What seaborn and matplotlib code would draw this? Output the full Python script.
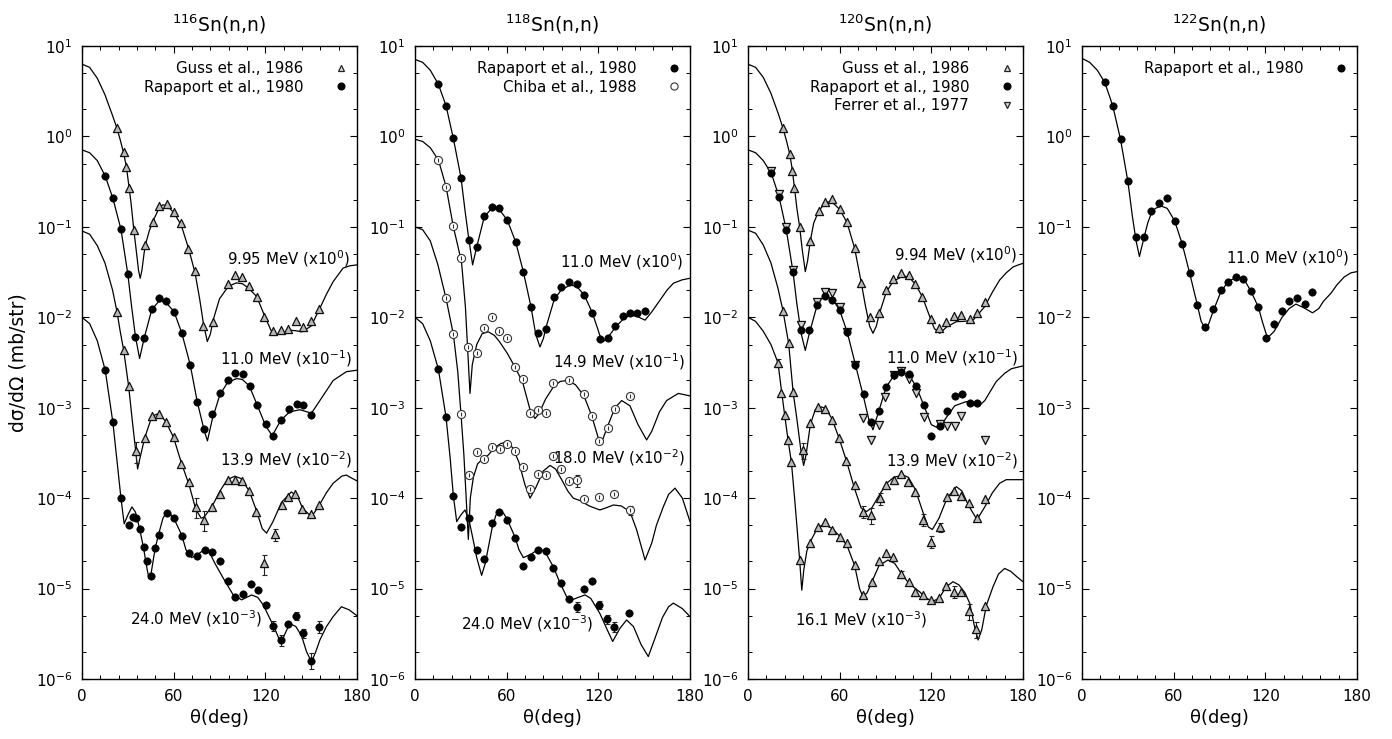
import numpy as np
import pandas as pd
import matplotlib
matplotlib.use("Agg")
import matplotlib.pyplot as plt
import seaborn as sns
from matplotlib.lines import Line2D
from matplotlib.ticker import FixedLocator, MultipleLocator, NullFormatter, LogFormatterSciNotation

# ---------------- theory curves (angle in deg, cross section in mb/sr, already scaled) -------------
t116_995_deg = [0, 5, 10, 15, 20, 22.9, 25, 27.2, 29, 30.5, 32, 34, 35.5, 37, 38.1, 39.2, 40.7, 42, 44, 46.4,
                50.7, 53, 55.5, 59.9, 64.9, 69.7, 74, 77, 79.5, 82, 84, 86, 90, 95.8, 101, 105, 109, 114.3, 119.7,
                125, 130, 136, 140, 144, 150, 155.7, 160, 164.4, 170.9, 175, 180]
t116_995_val = [6.3, 5.8, 4.4, 2.9, 1.7, 1.23, 0.92, 0.66, 0.47, 0.30, 0.19, 0.09, 0.055, 0.033, 0.027, 0.033,
                0.052, 0.068, 0.09, 0.115, 0.165, 0.175, 0.172, 0.145, 0.105, 0.058, 0.031, 0.016, 8.5e-3, 5.4e-3,
                6.5e-3, 9.5e-3, 0.016, 0.022, 0.024, 0.0235, 0.021, 0.017, 0.0102, 6.4e-3, 6.6e-3, 7.2e-3, 7.1e-3,
                6.9e-3, 8.0e-3, 0.0126, 0.018, 0.0248, 0.035, 0.037, 0.038]
t116_110_deg = [0, 5, 10, 15.2, 20.2, 25.5, 30, 32.5, 35, 37.7, 40.7, 45.7, 50, 52.2, 55.1, 60.3, 65.3, 70.8,
                75.5, 80.1, 82.1, 85.3, 90.3, 95.3, 101.2, 105, 109.5, 114.7, 120.2, 124.5, 130.2, 136, 142.6,
                150.2, 155.7, 164.4, 173, 180]
t116_110_val = [0.71, 0.66, 0.54, 0.365, 0.207, 0.094, 0.030, 0.013, 6.1e-3, 3.5e-3, 5.9e-3, 0.0122, 0.0148,
                0.015, 0.0145, 0.0115, 6.7e-3, 3.0e-3, 1.15e-3, 5.5e-4, 4.3e-4, 7.5e-4, 1.4e-3, 1.9e-3, 2.1e-3,
                2.05e-3, 1.74e-3, 1.07e-3, 6.3e-4, 4.9e-4, 7.3e-4, 9.0e-4, 9.5e-4, 8.7e-4, 1.2e-3, 2.0e-3,
                2.5e-3, 2.6e-3]
t116_139_deg = [0, 5, 10, 15, 20, 22.9, 25, 27.2, 30.5, 33, 35, 36.4, 38, 41, 45.7, 49, 52, 54.9, 59.9, 64.9,
                70.1, 74.5, 78, 80, 85.3, 90.3, 95.1, 100, 104, 109.5, 113.9, 118, 120.8, 125, 130.6, 137, 141,
                144.3, 150.2, 155, 160, 164.4, 170, 173, 177, 180]
t116_139_val = [0.09, 0.083, 0.062, 0.04, 0.02, 0.0115, 7.0e-3, 4.4e-3, 1.74e-3, 7.0e-4, 3.5e-4, 2.1e-4,
                2.8e-4, 4.6e-4, 8.0e-4, 8.5e-4, 8.0e-4, 7.0e-4, 4.7e-4, 2.5e-4, 1.4e-4, 7.5e-5, 6.0e-5, 6.2e-5,
                8.2e-5, 1.2e-4, 1.6e-4, 1.75e-4, 1.65e-4, 1.2e-4, 7.5e-5, 4.6e-5, 4.1e-5, 5.5e-5, 9.0e-5,
                1.17e-4, 1.05e-4, 7.8e-5, 6.2e-5, 8.2e-5, 1.15e-4, 1.46e-4, 1.75e-4, 1.8e-4, 1.65e-4, 1.55e-4]
t116_240_deg = [0, 5, 10, 15.2, 20.2, 23, 25.5, 27.6, 30, 32.7, 35, 37.7, 40.3, 42.7, 43.9, 45.3, 47.9, 50.5,
                53, 55.5, 58, 60.3, 65.3, 68, 71.8, 76, 80, 83, 87, 92.5, 99, 104.5, 111, 115, 118.6, 125.2,
                130.2, 133, 136, 140, 143.7, 147, 150.2, 153, 155.7, 160, 164.4, 169.8, 175, 180]
t116_240_val = [0.01, 8.5e-3, 5.5e-3, 2.6e-3, 6.9e-4, 2.5e-4, 1.0e-4, 5.2e-5, 6.5e-5, 8.0e-5, 7.0e-5, 4.6e-5,
                2.8e-5, 1.6e-5, 1.3e-5, 1.5e-5, 2.8e-5, 4.2e-5, 6.0e-5, 7.0e-5, 6.6e-5, 5.9e-5, 3.9e-5, 2.7e-5,
                2.2e-5, 2.4e-5, 2.7e-5, 2.6e-5, 1.9e-5, 1.3e-5, 8.5e-6, 7.5e-6, 8.5e-6, 8.0e-6, 6.6e-6, 3.9e-6,
                2.5e-6, 3.2e-6, 4.1e-6, 3.8e-6, 3.0e-6, 2.0e-6, 1.55e-6, 2.0e-6, 2.7e-6, 3.8e-6, 4.9e-6, 6.3e-6,
                5.8e-6, 5.0e-6]

t118_110_deg = [0, 5, 10, 15.3, 20.3, 25.1, 30.1, 33, 35.3, 37.7, 40.4, 45.4, 50, 52.4, 55.2, 60.4, 65.9, 70.9,
                75.9, 79, 81.8, 84, 86, 91, 95.6, 101.5, 105.8, 110.8, 116.1, 121, 123.3, 126, 131, 136.4, 140.7,
                145.5, 150.6, 155, 160.4, 165, 169.1, 175, 180]
t118_110_val = [7.1, 6.6, 5.4, 3.77, 2.19, 0.95, 0.35, 0.14, 0.072, 0.038, 0.060, 0.13, 0.158, 0.16, 0.155,
                0.119, 0.068, 0.032, 0.0131, 6.5e-3, 4.7e-3, 5.8e-3, 8.0e-3, 0.0155, 0.020, 0.0227, 0.022,
                0.0176, 0.0112, 6.3e-3, 5.4e-3, 5.9e-3, 7.7e-3, 9.6e-3, 0.0106, 0.0102, 9.3e-3, 0.0115, 0.0155,
                0.020, 0.0238, 0.026, 0.027]
t118_149_deg = [0, 5, 10, 15.3, 20.3, 25.1, 28, 30.5, 33, 35, 36, 37.5, 40.4, 44, 48, 52, 55.2, 60.4, 65.5,
                70.5, 75.3, 78.5, 81, 85.5, 90.6, 95, 99.3, 105, 110.6, 115.6, 120.7, 123, 126, 130.9, 135.3,
                140.7, 146, 151.6, 155, 160, 164.7, 172.4, 180]
t118_149_val = [0.93, 0.88, 0.75, 0.55, 0.28, 0.10, 0.062, 0.04, 0.013, 3.0e-3, 1.44e-3, 3.0e-3, 5.0e-3,
                6.6e-3, 6.9e-3, 6.3e-3, 5.4e-3, 4.0e-3, 2.8e-3, 1.9e-3, 9.5e-4, 7.6e-4, 8.5e-4, 1.25e-3, 1.7e-3,
                1.95e-3, 2.0e-3, 1.8e-3, 1.35e-3, 8.2e-4, 4.2e-4, 4.5e-4, 6.2e-4, 1.0e-3, 1.2e-3, 1.05e-3,
                6.5e-4, 4.4e-4, 5.5e-4, 9.0e-4, 1.2e-3, 1.44e-3, 1.35e-3]
t118_180_deg = [0, 5, 10, 15, 20.3, 25.1, 28, 30.1, 32, 33.5, 34.9, 36.2, 38.2, 41, 44.7, 48, 52, 56, 60, 64,
                68, 72, 75.3, 79, 84, 88.4, 92, 96, 100, 103.6, 108, 114, 121, 125, 129.8, 135, 140.7, 145,
                150.6, 155, 158, 162.5, 166, 170.2, 175, 180]
t118_180_val = [0.1, 0.093, 0.07, 0.038, 0.0162, 6.5e-3, 2.5e-3, 8.5e-4, 3.0e-4, 1.0e-4, 3.5e-5, 1.0e-4,
                1.7e-4, 2.4e-4, 2.75e-4, 3.0e-4, 3.6e-4, 4.0e-4, 4.2e-4, 3.6e-4, 2.5e-4, 1.4e-4, 1.0e-4, 1.3e-4,
                2.0e-4, 2.3e-4, 2.1e-4, 1.6e-4, 1.2e-4, 1.0e-4, 9.4e-5, 8.2e-5, 7.4e-5, 7.8e-5, 8.4e-5, 8.2e-5,
                7.1e-5, 4.5e-5, 2.07e-5, 3.2e-5, 5.0e-5, 8.0e-5, 1.1e-4, 1.29e-4, 1.0e-4, 5.5e-5]
t118_240_deg = [0, 5, 10, 15.3, 20.3, 23, 25.1, 27.3, 30, 32.7, 35.3, 38, 40.4, 43.6, 46, 50.6, 53, 55.2, 58,
                60.4, 65.5, 68, 70.9, 76, 81.8, 86, 90.6, 95, 99.3, 103.6, 107, 111.3, 115, 121, 125.5, 129.4,
                134, 138.5, 143, 148, 152.7, 157, 162, 166, 169.1, 175, 180]
t118_240_val = [0.01, 8.5e-3, 5.5e-3, 2.66e-3, 7.9e-4, 2.8e-4, 1.06e-4, 5.5e-5, 6.5e-5, 7.4e-5, 5.8e-5,
                3.5e-5, 2.2e-5, 1.4e-5, 1.9e-5, 4.8e-5, 6.5e-5, 7.2e-5, 6.8e-5, 5.8e-5, 3.7e-5, 2.7e-5, 2.2e-5,
                2.4e-5, 2.8e-5, 2.4e-5, 1.73e-5, 1.15e-5, 8.1e-6, 7.6e-6, 8.0e-6, 8.5e-6, 7.8e-6, 5.3e-6,
                3.6e-6, 2.6e-6, 3.6e-6, 4.5e-6, 3.8e-6, 2.4e-6, 1.77e-6, 2.8e-6, 4.8e-6, 6.3e-6, 6.9e-6, 6.0e-6,
                4.9e-6]

t120_994_deg = [0, 5, 10, 15, 20, 22.9, 25, 27.3, 28.8, 30.1, 32, 33.8, 35.5, 37.5, 39, 40.8, 43, 46.3, 50.6,
                53.5, 55.2, 60, 64.8, 69.8, 74.2, 77, 79.6, 81.8, 84, 86, 90.5, 95, 101.5, 105.2, 109.5, 114.1,
                119.6, 122, 125.5, 130, 136.4, 141, 147.3, 150, 154.9, 160, 164.7, 169, 173.5, 177, 180]
t120_994_val = [6.3, 5.8, 4.5, 3.0, 1.75, 1.23, 0.92, 0.64, 0.45, 0.30, 0.16, 0.10, 0.056, 0.032, 0.042, 0.07,
                0.11, 0.15, 0.185, 0.19, 0.187, 0.156, 0.112, 0.058, 0.0238, 0.013, 8.0e-3, 6.65e-3, 8.0e-3,
                0.011, 0.019, 0.025, 0.0286, 0.028, 0.0233, 0.0169, 9.5e-3, 7.5e-3, 6.65e-3, 7.8e-3, 8.95e-3,
                9.0e-3, 9.3e-3, 0.0105, 0.0131, 0.019, 0.0258, 0.031, 0.036, 0.038, 0.0395]
t120_110_deg = [0, 5, 10, 15.3, 20.3, 25.1, 29.5, 32, 34.9, 37.5, 40, 45.2, 48, 51.7, 55.2, 60, 65, 70.3, 75.7,
                79, 81.8, 85, 90.5, 95.4, 100.4, 105.4, 110.2, 115, 120, 125, 130.3, 135.3, 142.9, 150.6, 155,
                162.5, 168, 172.4, 180]
t120_110_val = [0.71, 0.66, 0.54, 0.39, 0.216, 0.092, 0.0315, 0.014, 6.5e-3, 4.3e-3, 6.5e-3, 0.0135, 0.016,
                0.0169, 0.016, 0.012, 6.8e-3, 3.0e-3, 1.3e-3, 7.5e-4, 5.7e-4, 8.5e-4, 1.7e-3, 2.25e-3, 2.45e-3,
                2.3e-3, 1.7e-3, 1.07e-3, 6.5e-4, 5.9e-4, 8.0e-4, 1.05e-3, 1.17e-3, 1.03e-3, 1.2e-3, 1.95e-3,
                2.4e-3, 2.7e-3, 2.9e-3]
t120_139_deg = [0, 5, 10, 15, 19.6, 22.9, 26.6, 29.5, 32, 34.5, 36.4, 38, 40.8, 44, 48, 51, 55, 59.6, 64.4,
                69.6, 74, 77.5, 81, 86.2, 90.6, 95.4, 101.5, 105, 109.5, 114.5, 118, 120.7, 125, 130.3, 136.4,
                140, 144.5, 149.9, 155, 160, 164.7, 169, 175, 180]
t120_139_val = [0.092, 0.085, 0.063, 0.04, 0.021, 0.0118, 5.15e-3, 1.5e-3, 7.5e-4, 3.5e-4, 2.3e-4, 3.0e-4,
                6.5e-4, 9.5e-4, 1.02e-3, 9.8e-4, 7.5e-4, 4.6e-4, 2.6e-4, 1.3e-4, 7.8e-5, 7.1e-5, 7.8e-5, 1.1e-4,
                1.45e-4, 1.7e-4, 1.8e-4, 1.7e-4, 1.25e-4, 7.0e-5, 4.8e-5, 4.5e-5, 6.0e-5, 1.0e-4, 1.34e-4,
                1.2e-4, 8.2e-5, 5.8e-5, 8.0e-5, 1.15e-4, 1.46e-4, 1.6e-4, 1.6e-4, 1.6e-4]
t120_161_deg = [0, 5, 10, 15, 19.6, 21.8, 24, 26.2, 28.4, 30.5, 32.2, 33.8, 35.2, 36.5, 38.5, 40.8, 45.8, 50,
                55.2, 60, 64.8, 69.8, 73, 75.3, 78, 81.2, 85.8, 91.6, 96, 100, 103.6, 108, 112.4, 116, 120.7,
                125, 129.8, 134.2, 138, 142, 145.1, 148, 150.6, 153, 156, 160.4, 164, 168, 172, 176, 180]
t120_161_val = [0.01, 9.0e-3, 7.0e-3, 5.0e-3, 3.15e-3, 1.6e-3, 8.3e-4, 4.4e-4, 2.5e-4, 1.0e-4, 4.5e-5, 2.07e-5,
                9.6e-6, 1.6e-5, 2.6e-5, 3.3e-5, 4.8e-5, 5.1e-5, 4.6e-5, 3.8e-5, 3.0e-5, 1.8e-5, 1.0e-5, 8.1e-6,
                9.0e-6, 1.2e-5, 1.8e-5, 2.07e-5, 1.9e-5, 1.5e-5, 1.24e-5, 1.05e-5, 9.2e-6, 8.0e-6, 7.2e-6,
                7.8e-6, 1.05e-5, 1.19e-5, 1.1e-5, 9.0e-6, 6.9e-6, 4.0e-6, 2.7e-6, 3.5e-6, 6.5e-6, 1.05e-5,
                1.45e-5, 1.67e-5, 1.55e-5, 1.35e-5, 1.19e-5]

t122_110_deg = [0, 5, 10, 14.9, 20.1, 25.2, 30, 33, 35.4, 37.6, 40.5, 43, 45.3, 48, 51.8, 55.8, 60.6, 65.6,
                70.4, 75.5, 78, 80.9, 83, 85.7, 90.8, 95.8, 101.7, 105.6, 110.4, 115.5, 118, 121.4, 125.8, 130.8,
                135.6, 140, 145, 150.9, 155, 158, 162.9, 167, 171.7, 176, 180]
t122_110_val = [7.3, 6.6, 5.4, 3.96, 2.19, 0.93, 0.32, 0.13, 0.07, 0.047, 0.075, 0.11, 0.14, 0.16, 0.17, 0.16,
                0.117, 0.0646, 0.0311, 0.0137, 9.0e-3, 7.4e-3, 8.5e-3, 0.0115, 0.019, 0.025, 0.028, 0.027,
                0.0197, 0.0129, 9.0e-3, 5.9e-3, 7.0e-3, 9.9e-3, 0.0125, 0.014, 0.0128, 0.0112, 0.0125, 0.015,
                0.0184, 0.023, 0.028, 0.031, 0.032]

# ---------------- experimental data ----------------
d116_g995_deg = [22.9, 27.2, 29.0, 30.5, 34.0, 41.4, 46.4, 50.7, 55.5, 59.9, 64.9, 69.7, 74.0, 79.5, 86.0,
                 95.8, 100.1, 104.9, 109.5, 114.3, 119.3, 124.7, 130.0, 135.0, 140.0, 144.8, 150.2, 155.2]
d116_g995_val = [1.23, 0.68, 0.46, 0.27, 0.092, 0.063, 0.114, 0.17, 0.179, 0.147, 0.111, 0.0565, 0.0327,
                 8.0e-3, 8.95e-3, 0.0232, 0.0294, 0.028, 0.0219, 0.0166, 0.0102, 7.1e-3, 7.2e-3, 7.4e-3, 9.2e-3,
                 7.9e-3, 9.2e-3, 0.0123]
d116_r110_deg = [15.2, 20.2, 25.5, 30.0, 35.0, 40.7, 45.7, 50.5, 55.1, 60.3, 65.3, 70.8, 75.5, 80.1, 85.3,
                 90.3, 95.3, 100.1, 105.6, 109.9, 114.7, 120.2, 125.2, 130.2, 135.4, 140.4, 144.8, 150.2]
d116_r110_val = [0.365, 0.207, 0.094, 0.030, 6.1e-3, 5.9e-3, 0.0122, 0.0162, 0.015, 0.0115, 6.7e-3, 3.0e-3,
                 1.15e-3, 5.8e-4, 8.5e-4, 1.44e-3, 2.0e-3, 2.4e-3, 2.35e-3, 1.74e-3, 1.07e-3, 6.6e-4, 4.9e-4,
                 7.3e-4, 9.6e-4, 1.1e-3, 1.08e-3, 8.4e-4]
d116_g139_deg = [22.9, 27.2, 30.5, 35.5, 41.0, 45.7, 50.5, 54.9, 59.9, 64.9, 70.1, 74.5, 79.9, 85.3, 90.3,
                 95.3, 100.1, 104.9, 109.5, 113.9, 119.3, 126.3, 130.6, 135.0, 139.3, 144.3, 149.6, 155.0]
d116_g139_val = [0.0115, 4.4e-3, 1.74e-3, 3.3e-4, 4.6e-4, 8.2e-4, 8.5e-4, 7.0e-4, 4.7e-4, 2.4e-4, 1.52e-4,
                 8.0e-5, 5.8e-5, 7.9e-5, 1.11e-4, 1.6e-4, 1.6e-4, 1.55e-4, 1.2e-4, 7.1e-5, 1.9e-5, 4.0e-5,
                 8.4e-5, 1.04e-4, 1.1e-4, 7.6e-5, 6.7e-5, 8.4e-5]
d116_g139_err = [0, 0, 0, .25, 0, 0, 0, 0, 0, 0, 0, .25, .25, 0, 0, 0, 0, 0, 0, 0, .25, .15, 0, 0, 0, 0, 0, 0]
d116_r240_deg = [15.2, 20.2, 25.5, 30.5, 33.3, 35.5, 37.7, 40.3, 42.7, 45.3, 47.9, 50.5, 55.5, 60.3, 65.3,
                 70.3, 75.5, 80.5, 85.3, 90.3, 95.3, 100.4, 105.6, 110.4, 115.4, 120.2, 125.2, 130.2, 135.0,
                 140.0, 144.8, 149.6, 155.0]
d116_r240_val = [2.6e-3, 6.9e-4, 1.0e-4, 5.1e-5, 6.2e-5, 6.1e-5, 4.6e-5, 2.9e-5, 2.0e-5, 1.38e-5, 2.8e-5,
                 3.9e-5, 6.8e-5, 6.1e-5, 3.8e-5, 2.5e-5, 2.3e-5, 2.7e-5, 2.55e-5, 2.0e-5, 1.2e-5, 8.1e-6, 8.7e-6,
                 1.12e-5, 9.6e-6, 6.6e-6, 3.9e-6, 2.7e-6, 4.1e-6, 5.0e-6, 3.2e-6, 1.6e-6, 3.8e-6]
d116_r240_err = [0] * 26 + [.12, .15, 0, .1, .12, .2, .15]

d118_r110_deg = [15.3, 20.3, 25.1, 30.1, 35.3, 40.4, 45.4, 50.6, 55.2, 60.4, 65.9, 70.9, 75.9, 80.7, 85.8,
                 91.0, 95.6, 100.8, 105.8, 110.8, 116.1, 121.1, 126.0, 130.9, 135.9, 140.7, 145.5, 150.6]
d118_r110_val = [3.77, 2.19, 0.95, 0.35, 0.0716, 0.060, 0.132, 0.167, 0.160, 0.119, 0.0686, 0.032, 0.0131,
                 6.65e-3, 7.5e-3, 0.0169, 0.0215, 0.0244, 0.0233, 0.0176, 0.0112, 5.7e-3, 5.95e-3, 8.0e-3,
                 0.0103, 0.0112, 0.0112, 0.0117]
d118_c149_deg = [15.3, 20.3, 25.1, 30.3, 34.9, 40.4, 45.4, 50.2, 55.2, 60.4, 65.5, 70.5, 75.3, 80.3, 85.5,
                 90.6, 100.8, 110.6, 115.6, 120.7, 126.0, 130.9, 140.7]
d118_c149_val = [0.55, 0.278, 0.102, 0.045, 4.7e-3, 4.0e-3, 7.7e-3, 0.01, 7.1e-3, 5.9e-3, 2.8e-3, 2.1e-3,
                 8.8e-4, 9.4e-4, 8.8e-4, 1.9e-3, 2.0e-3, 1.42e-3, 8.2e-4, 4.3e-4, 5.9e-4, 9.7e-4, 1.36e-3]
d118_c180_deg = [20.3, 25.1, 30.1, 35.3, 40.4, 45.2, 50.6, 55.6, 60.4, 65.5, 70.5, 75.3, 80.3, 85.5, 90.6,
                 95.6, 100.8, 105.8, 110.6, 120.7, 130.5, 140.7]
d118_c180_val = [0.0162, 6.5e-3, 8.5e-4, 1.8e-4, 3.2e-4, 2.7e-4, 3.7e-4, 3.5e-4, 4.0e-4, 3.3e-4, 2.2e-4,
                 1.26e-4, 1.84e-4, 1.78e-4, 2.9e-4, 2.1e-4, 1.55e-4, 1.57e-4, 9.8e-5, 1.04e-4, 1.1e-4, 7.4e-5]
d118_c180_err = [0] * 17 + [.15, 0, 0, 0, .12]
d118_r240_deg = [15.3, 20.3, 25.1, 30.1, 35.3, 40.4, 45.4, 50.6, 55.2, 60.4, 65.5, 70.5, 75.7, 80.7, 85.8,
                 90.6, 95.6, 100.8, 105.8, 110.6, 115.6, 120.7, 125.5, 130.5, 140.3]
d118_r240_val = [2.66e-3, 7.9e-4, 1.06e-4, 4.8e-5, 6.0e-5, 2.7e-5, 2.1e-5, 5.3e-5, 7.1e-5, 5.8e-5, 3.66e-5,
                 1.78e-5, 2.25e-5, 2.7e-5, 2.6e-5, 1.67e-5, 1.14e-5, 7.6e-6, 6.3e-6, 1.0e-5, 1.21e-5, 6.6e-6,
                 4.6e-6, 3.8e-6, 5.4e-6]
d118_r240_err = [0] * 18 + [.12, 0, 0, .1, .12, .12, 0]

d120_g994_deg = [22.9, 27.3, 28.8, 30.1, 33.8, 40.8, 46.3, 50.6, 55.2, 60.0, 64.8, 69.8, 74.2, 79.6, 85.8,
                 90.5, 95.0, 100.4, 105.2, 109.5, 114.1, 119.6, 125.0, 129.8, 134.6, 139.6, 145.1, 150.1, 154.9]
d120_g994_val = [1.23, 0.64, 0.41, 0.27, 0.10, 0.070, 0.151, 0.187, 0.203, 0.156, 0.114, 0.058, 0.0238,
                 0.0102, 0.0112, 0.020, 0.0263, 0.0306, 0.0294, 0.0233, 0.0169, 9.5e-3, 7.6e-3, 8.95e-3, 0.0104,
                 0.0106, 9.5e-3, 0.0112, 0.0149]
d120_r110_deg = [15.3, 20.3, 25.1, 29.5, 34.9, 39.9, 45.2, 50.2, 55.2, 60.0, 65.0, 70.3, 75.7, 80.7, 85.5,
                 90.5, 95.4, 100.4, 105.4, 110.2, 115.0, 120.0, 125.5, 130.3, 135.3, 140.3, 145.1, 150.1]
d120_r110_val = [0.39, 0.216, 0.092, 0.0315, 7.2e-3, 7.2e-3, 0.0137, 0.0174, 0.0155, 0.012, 6.8e-3, 3.0e-3,
                 1.42e-3, 7.0e-4, 9.2e-4, 1.71e-3, 2.3e-3, 2.5e-3, 2.36e-3, 1.74e-3, 1.07e-3, 4.9e-4, 6.2e-4,
                 9.2e-4, 1.36e-3, 1.41e-3, 1.14e-3, 1.12e-3]
d120_f110_deg = [15.3, 20.3, 25.1, 29.5, 34.5, 45.2, 50.2, 55.2, 60.0, 65.0, 70.3, 75.3, 80.7, 85.5, 89.8,
                 95.4, 100.4, 105.4, 110.2, 115.0, 125.5, 130.3, 135.3, 139.6, 155.4]
d120_f110_val = [0.415, 0.23, 0.10, 0.033, 8.2e-3, 0.0149, 0.0192, 0.0184, 0.0131, 6.9e-3, 3.0e-3, 7.6e-4,
                 4.4e-4, 6.5e-4, 1.32e-3, 2.3e-3, 2.55e-3, 2.06e-3, 1.44e-3, 7.9e-4, 6.6e-4, 6.2e-4, 6.2e-4,
                 8.2e-4, 4.4e-4]
d120_g139_deg = [22.9, 26.6, 29.5, 36.0, 40.8, 45.8, 50.2, 55.0, 59.6, 64.4, 69.8, 75.3, 80.7, 86.2, 90.6,
                 95.4, 100.4, 104.7, 109.5, 114.5, 120.0, 125.5, 130.3, 134.8, 139.6, 144.5, 149.9, 155.4]
d120_g139_val = [0.0118, 5.15e-3, 1.5e-3, 3.4e-4, 6.8e-4, 1.02e-3, 9.6e-4, 7.3e-4, 4.6e-4, 2.6e-4, 1.4e-4,
                 7.1e-5, 6.5e-5, 1.0e-4, 1.4e-4, 1.6e-4, 1.85e-4, 1.5e-4, 1.18e-4, 5.8e-5, 3.3e-5, 4.8e-5,
                 1.04e-4, 1.21e-4, 1.06e-4, 8.9e-5, 6.0e-5, 9.8e-5]
d120_g139_err = [0, 0, 0, .2, 0, 0, 0, 0, 0, 0, 0, .15, .2, .15, 0, 0, 0, 0, 0, .15, .15, .12, 0, 0, 0, 0, 0, 0]
d120_g161_deg = [19.6, 21.8, 24.0, 26.2, 28.4, 33.8, 40.8, 45.8, 50.6, 55.2, 60.0, 64.8, 69.8, 75.3, 81.2,
                 85.8, 90.6, 95.0, 99.9, 105.2, 109.5, 114.5, 120.0, 125.0, 129.8, 134.6, 139.6, 144.5, 149.5,
                 155.4]
d120_g161_val = [3.15e-3, 1.47e-3, 8.3e-4, 4.4e-4, 2.5e-4, 2.07e-5, 3.2e-5, 4.8e-5, 5.4e-5, 4.5e-5, 3.75e-5,
                 3.2e-5, 1.82e-5, 8.5e-6, 1.19e-5, 2.04e-5, 2.5e-5, 2.25e-5, 1.44e-5, 1.19e-5, 9.2e-6, 8.5e-6,
                 7.5e-6, 7.9e-6, 1.07e-5, 9.2e-6, 9.2e-6, 5.6e-6, 3.55e-6, 6.4e-6]
d120_g161_err = [.1] + [0] * 17 + [.1, 0, 0, 0, 0, 0, 0, .15, 0, .2, .2, 0]

d122_r110_deg = [14.9, 20.1, 25.2, 30.0, 35.4, 40.5, 45.3, 50.3, 55.8, 60.6, 65.6, 70.4, 75.5, 80.5, 85.7,
                 90.8, 95.8, 100.6, 105.6, 110.4, 115.5, 120.7, 125.8, 130.8, 135.6, 140.6, 145.9, 150.5]
d122_r110_val = [3.96, 2.19, 0.93, 0.32, 0.0765, 0.0765, 0.151, 0.182, 0.21, 0.117, 0.0646, 0.0311, 0.0137,
                 7.8e-3, 0.0122, 0.020, 0.0248, 0.0277, 0.0263, 0.0197, 0.0129, 5.9e-3, 8.4e-3, 0.0118, 0.0152,
                 0.0165, 0.0139, 0.0189]

titles = [r"$\mathregular{^{116}}$Sn(n,n)", r"$\mathregular{^{118}}$Sn(n,n)",
          r"$\mathregular{^{120}}$Sn(n,n)", r"$\mathregular{^{122}}$Sn(n,n)"]
x_ticks = [0, 60, 120, 180]
y_major = [1e-6, 1e-5, 1e-4, 1e-3, 1e-2, 1e-1, 1e0, 1e1]
y_minor = [m * 10.0 ** k for k in range(-6, 1) for m in (2, 5)]

# ---------------- style ----------------
sns.set_theme(style="ticks")
plt.rcParams["font.family"] = ["DejaVu Sans"]
plt.rcParams["mathtext.fontset"] = "dejavusans"
plt.rcParams["axes.unicode_minus"] = False
for key in ["text.color", "axes.labelcolor", "xtick.color", "ytick.color", "axes.edgecolor"]:
    plt.rcParams[key] = "black"

FS_TXT = 10.8
STYLES = {
    "guss": dict(marker="^", s=34, facecolor="#b8b8b8", edgecolor="#111111", linewidth=0.9),
    "rap": dict(marker="o", s=28, facecolor="black", edgecolor="black", linewidth=0.5),
    "chiba": dict(marker="o", s=34, facecolor="white", edgecolor="#333333", linewidth=0.8),
    "ferrer": dict(marker="v", s=34, facecolor="#cfcfcf", edgecolor="#111111", linewidth=0.9),
}
LEG = {
    "guss": dict(marker="^", markersize=4.6, markerfacecolor="#dddddd", markeredgecolor="#222222", markeredgewidth=0.9),
    "rap": dict(marker="o", markersize=4.8, markerfacecolor="black", markeredgecolor="black"),
    "chiba": dict(marker="o", markersize=5.2, markerfacecolor="white", markeredgecolor="#333333", markeredgewidth=0.8),
    "ferrer": dict(marker="v", markersize=4.6, markerfacecolor="#dddddd", markeredgecolor="#222222", markeredgewidth=0.9),
}


def draw_curve(ax, deg, val):
    assert len(deg) == len(val), (len(deg), len(val))
    df = pd.DataFrame({"deg": deg, "val": val})
    sns.lineplot(data=df, x="deg", y="val", ax=ax, color="black", linewidth=0.9,
                 estimator=None, sort=False, legend=False, zorder=2)


def draw_points(ax, deg, val, kind, err=None):
    assert len(deg) == len(val), (kind, len(deg), len(val))
    deg = np.asarray(deg, float)
    val = np.asarray(val, float)
    if err is not None:
        assert len(err) == len(deg), (kind, len(err), len(deg))
        err = np.asarray(err, float)
        m = err > 0
        if m.any():
            ax.errorbar(deg[m], val[m], yerr=val[m] * err[m], fmt="none", ecolor="#222222",
                        elinewidth=0.8, capsize=1.8, capthick=0.8, zorder=2.5)
    df = pd.DataFrame({"deg": deg, "val": val})
    sns.scatterplot(data=df, x="deg", y="val", ax=ax, legend=False, zorder=3, **STYLES[kind])
    if kind == "chiba":
        sns.scatterplot(data=df, x="deg", y="val", ax=ax, legend=False, zorder=4,
                        marker="|", s=12, color="#333333", linewidth=0.8)


def add_legend(ax, entries):
    handles = [Line2D([], [], linestyle="none", **LEG[k]) for k, _ in entries]
    labels = [lab for _, lab in entries]
    ax.legend(handles, labels, loc="upper right", bbox_to_anchor=(1.0 - 2 / 275, 1.0 - 15 / 633),
              markerfirst=False, frameon=False, fontsize=FS_TXT, handlelength=1.9, handletextpad=1.55,
              borderaxespad=0.0, borderpad=0.0, labelspacing=0.24)


def energy_label(ax, x, y, txt):
    ax.text(x, y, txt, ha="right", va="center", fontsize=FS_TXT, color="black")


W, H = 1392, 739
fig = plt.figure(figsize=(W / 100, H / 100), dpi=100)
lefts_px = [82, 415, 748, 1082]
top_px, bot_px, width_px = 46, 679, 275
axes = []
for i, lp in enumerate(lefts_px):
    ax = fig.add_axes([lp / W, 1 - bot_px / H, width_px / W, (bot_px - top_px) / H])
    ax.set_yscale("log")
    axes.append(ax)

# panel 1: 116Sn
a = axes[0]
for d, v in [(t116_995_deg, t116_995_val), (t116_110_deg, t116_110_val),
             (t116_139_deg, t116_139_val), (t116_240_deg, t116_240_val)]:
    draw_curve(a, d, v)
draw_points(a, d116_g995_deg, d116_g995_val, "guss")
draw_points(a, d116_r110_deg, d116_r110_val, "rap")
draw_points(a, d116_g139_deg, d116_g139_val, "guss", d116_g139_err)
draw_points(a, d116_r240_deg, d116_r240_val, "rap", d116_r240_err)
add_legend(a, [("guss", "Guss et al., 1986"), ("rap", "Rapaport et al., 1980")])
energy_label(a, 175.5, 0.044, r"9.95 MeV (x10$\mathregular{^{0}}$)")
energy_label(a, 176.5, 3.5e-3, r"11.0 MeV (x10$\mathregular{^{-1}}$)")
energy_label(a, 176.5, 2.65e-4, r"13.9 MeV (x10$\mathregular{^{-2}}$)")
energy_label(a, 118.0, 4.7e-6, r"24.0 MeV (x10$\mathregular{^{-3}}$)")

# panel 2: 118Sn
a = axes[1]
for d, v in [(t118_110_deg, t118_110_val), (t118_149_deg, t118_149_val),
             (t118_180_deg, t118_180_val), (t118_240_deg, t118_240_val)]:
    draw_curve(a, d, v)
draw_points(a, d118_r110_deg, d118_r110_val, "rap")
draw_points(a, d118_c149_deg, d118_c149_val, "chiba")
draw_points(a, d118_c180_deg, d118_c180_val, "chiba", d118_c180_err)
draw_points(a, d118_r240_deg, d118_r240_val, "rap", d118_r240_err)
add_legend(a, [("rap", "Rapaport et al., 1980"), ("chiba", "Chiba et al., 1988")])
energy_label(a, 175.5, 0.041, r"11.0 MeV (x10$\mathregular{^{0}}$)")
energy_label(a, 176.5, 3.2e-3, r"14.9 MeV (x10$\mathregular{^{-1}}$)")
energy_label(a, 176.5, 2.8e-4, r"18.0 MeV (x10$\mathregular{^{-2}}$)")
energy_label(a, 116.5, 4.1e-6, r"24.0 MeV (x10$\mathregular{^{-3}}$)")

# panel 3: 120Sn
a = axes[2]
for d, v in [(t120_994_deg, t120_994_val), (t120_110_deg, t120_110_val),
             (t120_139_deg, t120_139_val), (t120_161_deg, t120_161_val)]:
    draw_curve(a, d, v)
draw_points(a, d120_g994_deg, d120_g994_val, "guss")
draw_points(a, d120_f110_deg, d120_f110_val, "ferrer")
draw_points(a, d120_r110_deg, d120_r110_val, "rap")
draw_points(a, d120_g139_deg, d120_g139_val, "guss", d120_g139_err)
draw_points(a, d120_g161_deg, d120_g161_val, "guss", d120_g161_err)
add_legend(a, [("guss", "Guss et al., 1986"), ("rap", "Rapaport et al., 1980"), ("ferrer", "Ferrer et al., 1977")])
energy_label(a, 176.0, 0.049, r"9.94 MeV (x10$\mathregular{^{0}}$)")
energy_label(a, 176.5, 3.6e-3, r"11.0 MeV (x10$\mathregular{^{-1}}$)")
energy_label(a, 176.5, 2.57e-4, r"13.9 MeV (x10$\mathregular{^{-2}}$)")
energy_label(a, 117.0, 4.5e-6, r"16.1 MeV (x10$\mathregular{^{-3}}$)")

# panel 4: 122Sn
a = axes[3]
draw_curve(a, t122_110_deg, t122_110_val)
draw_points(a, d122_r110_deg, d122_r110_val, "rap")
add_legend(a, [("rap", "Rapaport et al., 1980")])
energy_label(a, 175.0, 0.046, r"11.0 MeV (x10$\mathregular{^{0}}$)")

for i, ax in enumerate(axes):
    ax.set_xlim(0, 180)
    ax.set_ylim(1e-6, 10)
    ax.xaxis.set_major_locator(FixedLocator(x_ticks))
    ax.xaxis.set_minor_locator(MultipleLocator(12))
    ax.yaxis.set_major_locator(FixedLocator(y_major))
    ax.yaxis.set_major_formatter(LogFormatterSciNotation())
    ax.yaxis.set_minor_locator(FixedLocator(y_minor))
    ax.yaxis.set_minor_formatter(NullFormatter())
    ax.xaxis.set_minor_formatter(NullFormatter())
    ax.tick_params(which="both", direction="in", top=True, right=True, colors="black")
    ax.tick_params(which="major", length=5, width=0.8, labelsize=11, pad=7)
    ax.tick_params(which="minor", length=3, width=0.7)
    for sp in ax.spines.values():
        sp.set_linewidth(1.0)
        sp.set_color("black")
    ax.set_xlabel("θ(deg)", fontsize=13, labelpad=4)
    ax.set_ylabel("")
    ax.set_title(titles[i], fontsize=13.5, pad=10.5)

axes[0].set_ylabel("dσ/dΩ (mb/str)", fontsize=13.5, labelpad=6)

fig.savefig("out.png", dpi=100, facecolor="white")
